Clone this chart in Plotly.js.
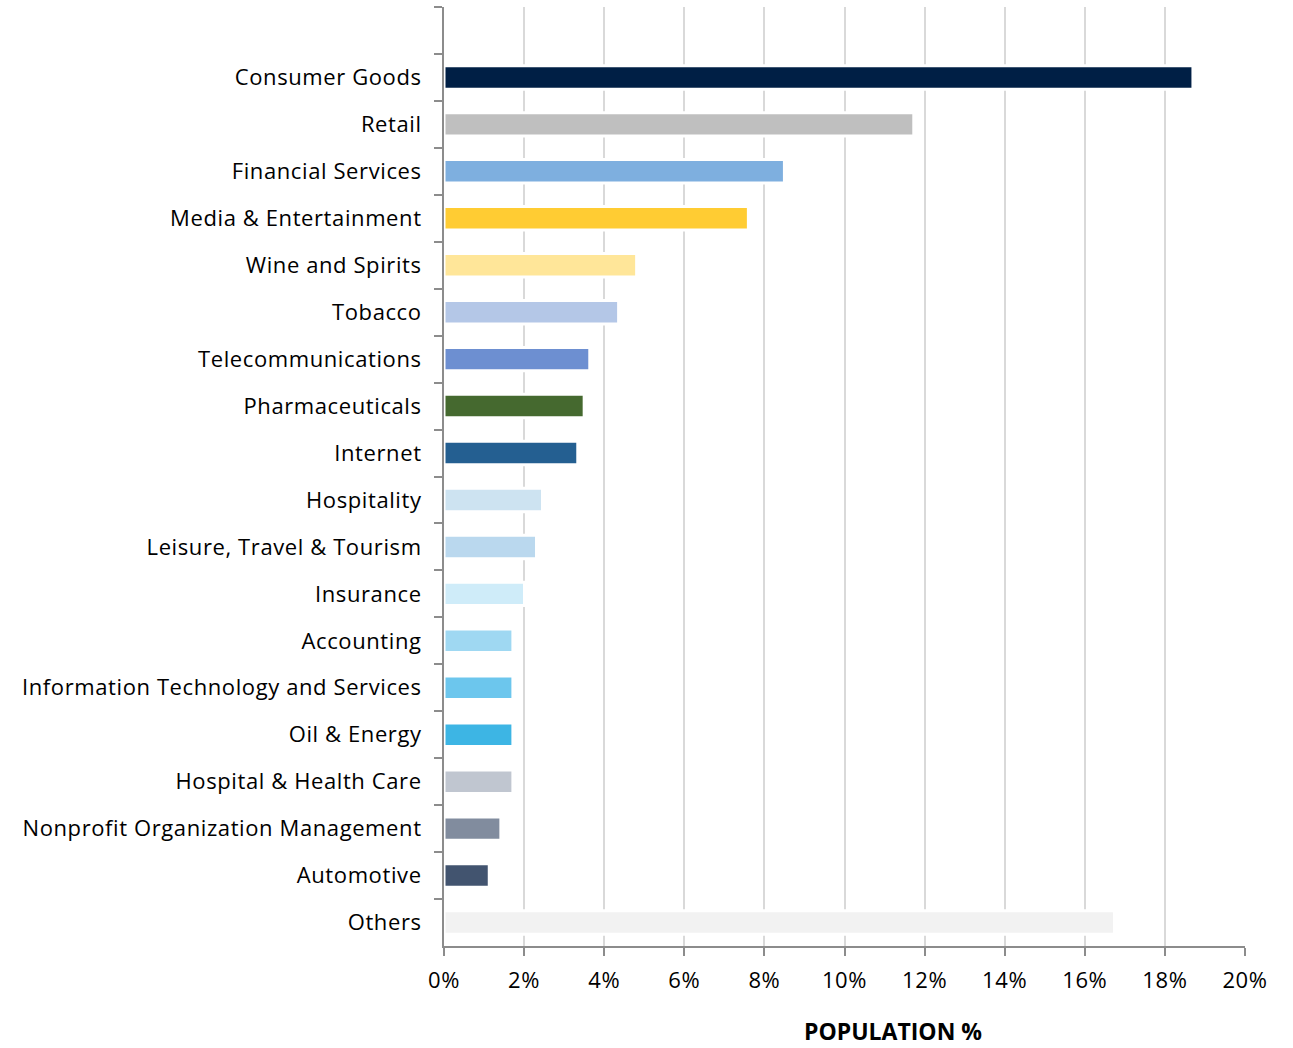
<!DOCTYPE html>
<html>
<head>
<meta charset="utf-8">
<script src="https://cdn.plot.ly/plotly-3.0.1.min.js"></script>
<style>
html,body{margin:0;padding:0;background:#fff;}
#chart{width:1293px;height:1048px;}
#chart .ytick text, #chart .xtick text{letter-spacing:0.6px;}
</style>
</head>
<body>
<div id="chart"></div>
<script>
const categories = [" ", "Consumer Goods", "Retail", "Financial Services", "Media & Entertainment", "Wine and Spirits", "Tobacco", "Telecommunications", "Pharmaceuticals", "Internet", "Hospitality", "Leisure, Travel & Tourism", "Insurance", "Accounting", "Information Technology and Services", "Oil & Energy", "Hospital & Health Care", "Nonprofit Organization Management", "Automotive", "Others"];
const populationPct = [null, 18.7, 11.73, 8.5, 7.6, 4.81, 4.36, 3.64, 3.5, 3.34, 2.46, 2.31, 2.01, 1.72, 1.72, 1.72, 1.72, 1.42, 1.13, 16.74];
const barColors = ["#ffffff", "#001f45", "#bfbfbf", "#7eafdf", "#ffcc33", "#ffe699", "#b4c7e7", "#6d8fd1", "#45692f", "#245f91", "#cde3f1", "#bad8ee", "#cfecf9", "#9fd8f2", "#6cc6ed", "#3db5e4", "#c0c6d0", "#818c9e", "#42546f", "#f2f2f2"];
const xTickVals = [0, 2, 4, 6, 8, 10, 12, 14, 16, 18, 20];

const trace = {
  type: "bar",
  orientation: "h",
  y: categories,
  x: populationPct,
  marker: {color: barColors, line: {color: "#ffffff", width: 3}},
  hoverinfo: "x+y"
};

const layout = {
  width: 1293, height: 1048,
  margin: {l: 444, r: 48, t: 7, b: 102},
  paper_bgcolor: "#ffffff", plot_bgcolor: "#ffffff",
  bargap: 0.5,
  showlegend: false,
  font: {family: "Open Sans, sans-serif", color: "#000000", size: 22},
  xaxis: {
    range: [0, 20],
    tickvals: xTickVals,
    ticktext: xTickVals.map(v => v + "%"),
    showgrid: true, gridcolor: "#d9d9d9", gridwidth: 2,
    showline: true, linecolor: "#8c8c8c", linewidth: 2,
    ticks: "outside", ticklen: 8, tickwidth: 2, tickcolor: "#8c8c8c",
    ticklabelstandoff: 6,
    tickfont: {size: 22, family: "Open Sans, sans-serif", color: "#000"},
    zeroline: false, fixedrange: true
  },
  yaxis: {
    type: "category",
    autorange: "reversed",
    showgrid: false,
    showline: true, linecolor: "#8c8c8c", linewidth: 2,
    ticks: "outside", tickson: "boundaries", ticklen: 8, tickwidth: 2, tickcolor: "#8c8c8c",
    ticklabelstandoff: 16,
    tickfont: {size: 22, family: "Open Sans, sans-serif", color: "#000"},
    zeroline: false, fixedrange: true
  },
  annotations: [{
    text: "<b>POPULATION %</b>",
    xref: "paper", yref: "paper",
    x: 0.56, y: -0.091, xanchor: "center", yanchor: "middle",
    showarrow: false, borderpad: 0,
    font: {size: 23, family: "Open Sans, sans-serif", color: "#000"}
  }]
};

Plotly.newPlot("chart", [trace], layout, {displayModeBar: false, staticPlot: true});
</script>
</body>
</html>
